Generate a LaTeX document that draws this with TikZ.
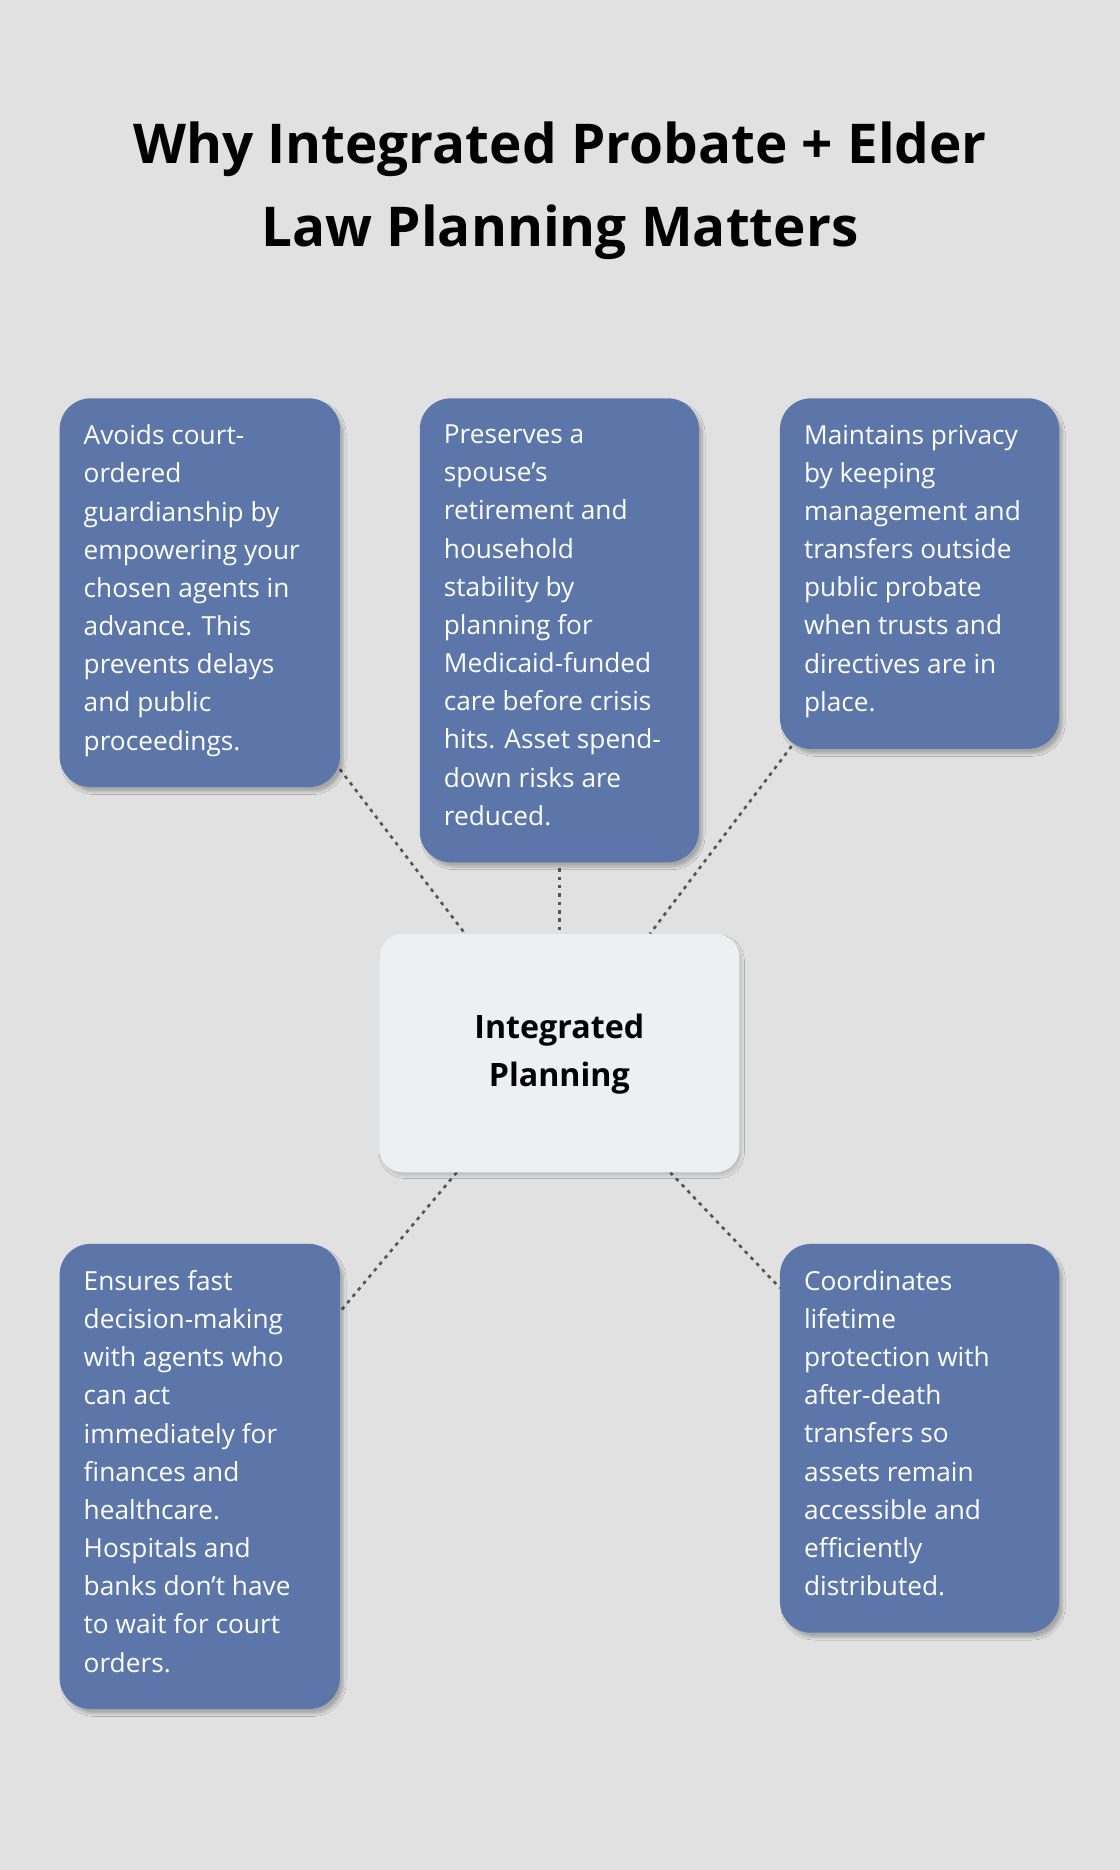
\documentclass[tikz,border=0pt]{standalone}
\usepackage{fontspec}
\setmainfont{Open Sans}
\usetikzlibrary{shadows.blur}
\definecolor{bg}{HTML}{E0E1E0}
\definecolor{boxc}{HTML}{5C76A9}
\definecolor{cen}{HTML}{EEEFF1}
\definecolor{lnc}{HTML}{555555}
\begin{document}
\begin{tikzpicture}[x=1pt,y=-1pt,
 box/.style={fill=boxc,rounded corners=26pt,blur shadow={shadow blur steps=8,shadow xshift=3pt,shadow yshift=-4pt,shadow opacity=25}},
 txt/.style={anchor=north west,align=left,text=white,font=\fontsize{22}{32}\selectfont,inner sep=0pt},
 con/.style={draw=lnc,line width=2.2pt,dash pattern=on 3pt off 4pt}]
\fill[bg] (0,0) rectangle (939,1568);
\useasboundingbox (0,0) rectangle (939,1568);
\node[font=\fontsize{46}{70}\selectfont\bfseries,align=center] (title) at (469.5,160) {Why Integrated Probate + Elder\\Law Planning Matters};
\coordinate (c1) at (285,645); \coordinate (c1e) at (390,783);
\coordinate (c2) at (469,728); \coordinate (c2e) at (469,783);
\coordinate (c3) at (668,620); \coordinate (c3e) at (545,783);
\coordinate (c4) at (383,983); \coordinate (c4e) at (285,1100);
\coordinate (c5) at (562,983); \coordinate (c5e) at (654,1080);
\draw[con] (c1)--(c1e); \draw[con] (c2)--(c2e); \draw[con] (c3)--(c3e);
\draw[con] (c4)--(c4e); \draw[con] (c5)--(c5e);
\path[box] (50,334) rectangle (285,660);
\path[box] (352,334) rectangle (586,723);
\path[box] (654,334) rectangle (888,628);
\path[box] (50,1043) rectangle (285,1433);
\path[box] (654,1043) rectangle (888,1369);
\path[fill=cen,rounded corners=20pt,blur shadow={shadow blur steps=8,shadow xshift=2pt,shadow yshift=-3pt,shadow opacity=15}] (318,783) rectangle (620,983);
\node[font=\fontsize{27}{40}\selectfont\bfseries,align=center] (center) at (469,884) {Integrated\\Planning};
\node[txt] (t1) at (70,356) {Avoids court-\\ordered\\guardianship by\\empowering your\\chosen agents in\\advance. This\\prevents delays\\and public\\proceedings.};
\node[txt] (t2) at (372,356) {Preserves a\\spouse’s\\retirement and\\household\\stability by\\planning for\\Medicaid-funded\\care before crisis\\hits. Asset spend-\\down risks are\\reduced.};
\node[txt] (t3) at (674,356) {Maintains privacy\\by keeping\\management and\\transfers outside\\public probate\\when trusts and\\directives are in\\place.};
\node[txt] (t4) at (70,1065) {Ensures fast\\decision-making\\with agents who\\can act\\immediately for\\finances and\\healthcare.\\Hospitals and\\banks don’t have\\to wait for court\\orders.};
\node[txt] (t5) at (674,1065) {Coordinates\\lifetime\\protection with\\after-death\\transfers so\\assets remain\\accessible and\\efficiently\\distributed.};
\end{tikzpicture}
\end{document}
